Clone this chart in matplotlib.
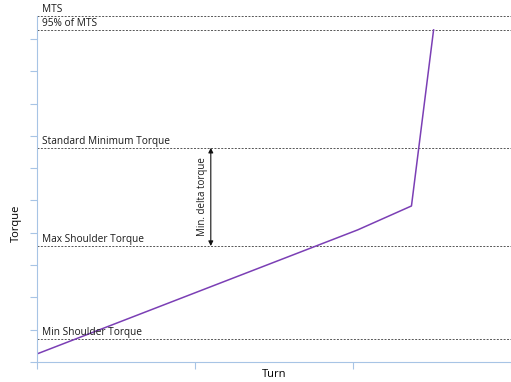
import numpy as np
import matplotlib
matplotlib.use('Agg')
import matplotlib.pyplot as plt

plt.rcParams['font.family'] = ['Open Sans', 'DejaVu Sans']

# torque curve (turn, torque)
turn = [0.0, 2.03, 2.37, 2.51]
torque = [0.25, 4.09, 4.83, 10.28]

# reference levels
level_names = ['MTS', '95% of MTS', 'Standard Minimum Torque', 'Max Shoulder Torque', 'Min Shoulder Torque']
level_values = [10.71, 10.28, 6.63, 3.59, 0.71]

arrow_x = 1.10
axis_col = '#A7C4E5'

fig = plt.figure(figsize=(5.11, 3.82), dpi=100)
ax = fig.add_axes([37 / 511, 20 / 382, 474 / 511, 346 / 382])

for name, val in zip(level_names, level_values):
    ax.axhline(val, color='#555555', lw=0.7, ls=(0, (2, 1.5)), clip_on=False)
    ax.text(0.03, val + 0.03, name, fontsize=7.3, color='#1a1a1a', va='bottom', ha='left')

ax.plot(turn, torque, color='#7B3FB5', lw=1.1)

ax.annotate('', xy=(arrow_x, level_values[2]), xytext=(arrow_x, level_values[3]),
            arrowprops=dict(arrowstyle='<|-|>', color='#111111', lw=0.8,
                            mutation_scale=7, shrinkA=0, shrinkB=0))
ax.text(arrow_x - 0.05, (level_values[2] + level_values[3]) / 2, 'Min. delta torque',
        rotation=90, fontsize=7, ha='center', va='center', color='#1a1a1a')

ax.set_xlim(0, 3)
ax.set_ylim(0, 10.71)
ax.set_xticks([0, 1, 2, 3])
ax.set_yticks(np.arange(0, 11))
ax.set_xticklabels([])
ax.set_yticklabels([])
ax.tick_params(colors=axis_col, length=5, width=0.8)
for s in ['top', 'right']:
    ax.spines[s].set_visible(False)
for s in ['left', 'bottom']:
    ax.spines[s].set_color(axis_col)
ax.set_xlabel('Turn', fontsize=8, va='center')
ax.set_ylabel('Torque', fontsize=8, va='center')
ax.xaxis.set_label_coords(0.5, -0.035)
ax.yaxis.set_label_coords(-0.044, 0.40)

fig.savefig('out.png', dpi=100)
